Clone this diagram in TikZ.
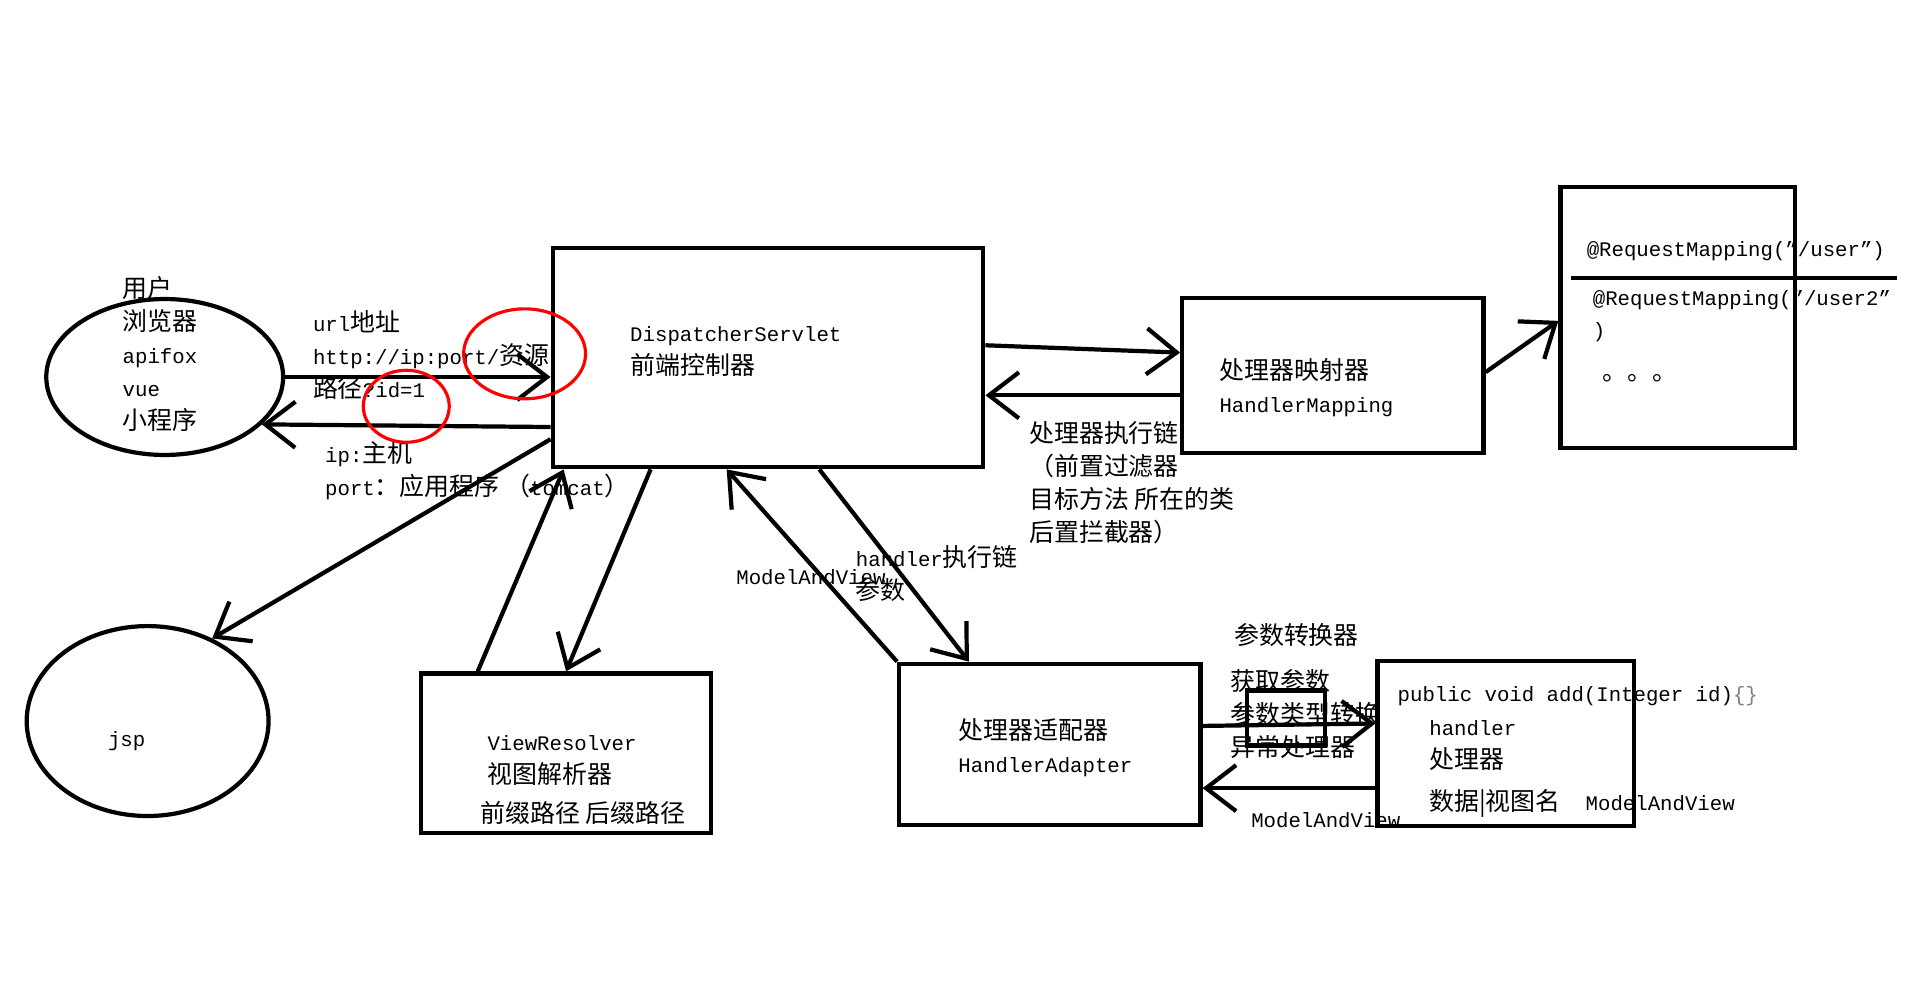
\documentclass[tikz,border=0pt]{standalone}
\usepackage{fontspec}
\setmainfont{Liberation Mono}[Scale=0.83]
\newfontfamily\cjk{Noto Sans CJK SC}
\newcommand\zh[1]{{\cjk #1}}
\usetikzlibrary{positioning,fit,calc,arrows.meta,shapes.geometric}

\begin{document}
\begin{tikzpicture}[
    x=0.0122cm, y=-0.0122cm,
    every node/.style={font=\fontsize{7.1pt}{9.37pt}\selectfont},
    box/.style={draw, line width=1.2pt, inner sep=0pt},
    oval/.style={draw, ellipse, line width=1.2pt, inner sep=0pt},
    txt/.style={anchor=base west, inner sep=0pt, align=left},
    arr/.style={line width=1.2pt, -{Straight Barb[length=3mm,width=4.6mm,line width=1.2pt]}},
    redring/.style={draw=red, line width=0.9pt}
]
    \useasboundingbox (0,0) rectangle (1568,820);

    % Clients
    \node[oval, minimum width=2.37cm, minimum height=1.56cm] (user) at (135,309) {};
    \node[txt] (usertxt) at (100,352) {\zh{用户}\\\zh{浏览器}\\apifox\\vue\\\zh{小程序}};
    \node[oval, minimum width=2.42cm, minimum height=1.90cm] (jsp) at (121,591) {};
    \node[txt] (jsptxt) at (88,612) {jsp};

    % Front controller
    \node[box, fit={(453,203) (806,383)}] (ds) {};
    \node[txt] (dstxt) at (516,307) {DispatcherServlet\\\zh{前端控制器}};

    % Request / response
    \draw[arr] (user.east) -- (ds.west |- user.east);
    \draw[arr] (ds.west |- 0,350) -- (user.-26);
    \node[txt] (url) at (256,326) {url\zh{地址}\\http://ip:port/\zh{资源}\\\zh{路径}?id=1};
    \node[txt] (host) at (266,406) {ip:\zh{主机}\\port\zh{：应用程序 （}tomcat\zh{）}};
    \draw[redring] (430,290) ellipse [x radius=0.61cm, y radius=0.45cm];
    \draw[redring] (333,333) ellipse [x radius=0.43cm, y radius=0.36cm];
    \draw[arr] (ds.west |- 0,360) -- (jsp.52);

    % View resolver
    \node[box, fit={(345,552) (583,683)}] (vr) {};
    \node[txt] (vrtxt) at (399,642) {ViewResolver\\\zh{视图解析器}};
    \node[txt] (vrpath) at (393,674) {\zh{前缀路径 后缀路径}};
    \draw[arr] ($(vr.north west)!0.2!(vr.north east)$) -- ($(ds.south west)!0.03!(ds.south east)$);
    \draw[arr] ($(ds.south west)!0.23!(ds.south east)$) -- (vr.north);

    % Handler mapping
    \node[box, fit={(969,244) (1216,371)}] (hm) {};
    \node[txt] (hmtxt) at (999,338) {\zh{处理器映射器}\\HandlerMapping};
    \draw[arr] (ds.east |- 0,283) -- (hm.west |- 0,289);
    \draw[arr] (hm.west |- 0,324) -- (ds.east |- 0,324);
    \node[txt] (chain) at (843,444) {\zh{处理器执行链}\\\zh{（前置过滤器}\\\zh{目标方法 所在的类}\\\zh{后置拦截器）}};

    % Request mappings
    \node[box, fit={(1279,153) (1471,367)}] (rm) {};
    \draw[line width=1.2pt] (1288,228) -- (1555,228);
    \node[txt] (map1) at (1300,210) {@RequestMapping(”/user”)};
    \node[txt] (map2) at (1305,277) {@RequestMapping(”/user2”\\)};
    \node[txt] (dots) at (1313,312) {\zh{。。。}};
    \draw[arr] (hm.east |- 0,305) -- (rm.west |- 0,263);

    % Handler adapter
    \node[box, fit={(737,544) (984,676)}] (ha) {};
    \node[txt] (hatxt) at (785,633) {\zh{处理器适配器}\\HandlerAdapter};
    \draw[arr] (ha.north west) -- ($(ds.south west)!0.405!(ds.south east)$);
    \draw[arr] ($(ds.south west)!0.618!(ds.south east)$) -- ($(ha.north west)!0.235!(ha.north east)$);
    \node[txt] (mav1) at (603,479) {ModelAndView};
    \node[txt] (chain2) at (701,491) {handler\zh{执行链}\\\zh{参数}};

    % Handler
    \node[box, fit={(1129,542) (1339,677)}] (hd) {};
    \node[txt] (hdtxt) at (1145,575) {public void add(Integer id)\textcolor{gray}{\{\}}};
    \node[txt] (hdname) at (1171,630) {handler\\\zh{处理器}};
    \node[txt] (hdret) at (1171,664) {\zh{数据|视图名}\ \ ModelAndView};

    % Argument converter
    \node[box, fit={(1022,566) (1086,611)}] (cv) {};
    \node[txt] (cvtitle) at (1011,528) {\zh{参数转换器}};
    \node[txt] (cvtxt) at (1008,620) {\zh{获取参数}\\\zh{参数类型转换}\\\zh{异常处理器}};
    \draw[arr] (ha.east |- 0,595) -- (hd.west |- 0,593);
    \draw[arr] (hd.west |- 0,646) -- (ha.east |- 0,646);
    \node[txt] (mav2) at (1025,678) {ModelAndView};

\end{tikzpicture}
\end{document}
